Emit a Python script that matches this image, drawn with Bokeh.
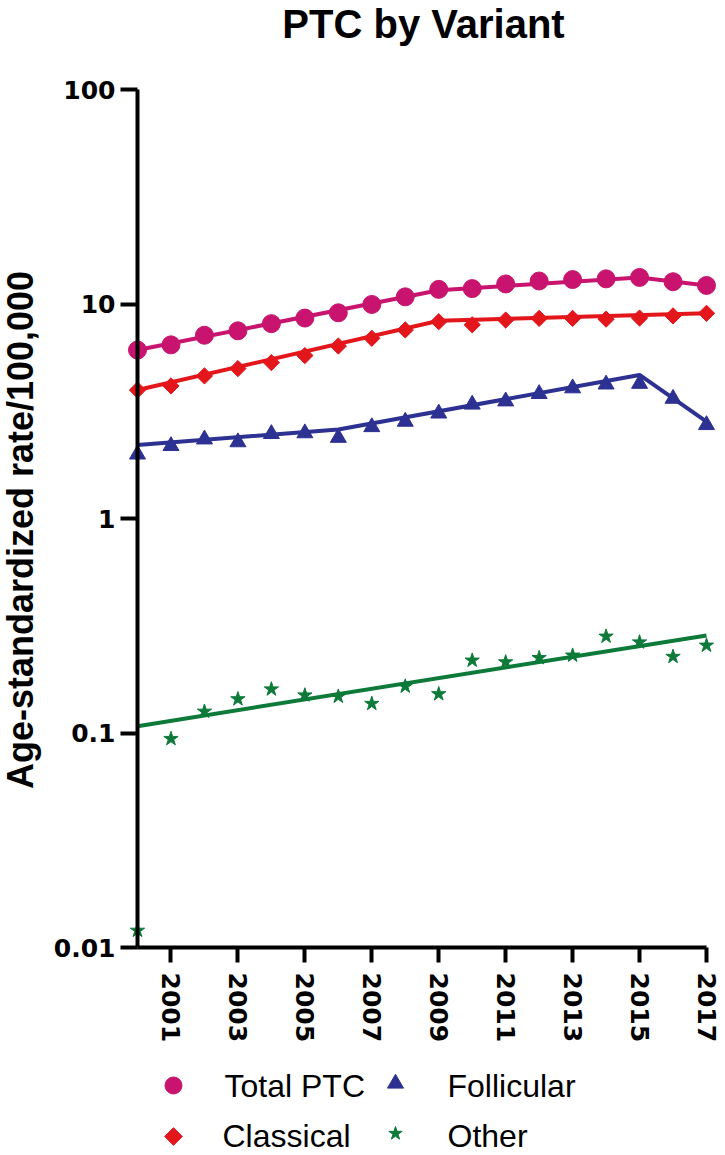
import numpy as np
from bokeh.plotting import figure
from bokeh.models import Range1d, FixedTicker, Label
from bokeh.embed import file_html
from bokeh.resources import INLINE
from bokeh.core.properties import value

# ---------------- data ----------------
years = list(range(2000, 2018))
total_ptc = [6.1, 6.45, 7.15, 7.5, 8.1, 8.6, 9.1, 9.95, 10.8, 11.7, 11.8, 12.4, 12.8, 13.0, 13.1, 13.3, 12.7, 12.2]
classical = [3.97, 4.15, 4.62, 5.0, 5.33, 5.75, 6.37, 6.92, 7.57, 8.27, 8.0, 8.42, 8.57, 8.57, 8.5, 8.6, 8.8, 9.05]
follicular = [1.99, 2.18, 2.34, 2.27, 2.48, 2.5, 2.38, 2.67, 2.83, 3.09, 3.4, 3.52, 3.81, 4.05, 4.22, 4.25, 3.62, 2.73]
other = [0.012, 0.094, 0.126, 0.144, 0.16, 0.15, 0.148, 0.137, 0.165, 0.152, 0.218, 0.214, 0.224, 0.23, 0.282, 0.265, 0.227, 0.256]

# joinpoint model fits (vertices)
total_fit_years = [2000, 2009, 2015, 2017]
total_fit = [6.1, 11.6, 13.3, 12.2]
classical_fit_years = [2000, 2009, 2017]
classical_fit = [3.97, 8.35, 9.05]
follicular_fit_years = [2000, 2006, 2015, 2017]
follicular_fit = [2.2, 2.6, 4.67, 2.83]
other_fit_years = [2000, 2017]
other_fit = [0.1076, 0.285]

series_names = ["Total PTC", "Classical", "Follicular", "Other"]
x_ticks = [2001, 2003, 2005, 2007, 2009, 2011, 2013, 2015, 2017]
y_ticks = [0.01, 0.1, 1, 10, 100]
y_tick_labels = ["0.01", "0.1", "1", "10", "100"]
title_text = "PTC by Variant"
y_label_text = "Age-standardized rate/100,000"

X_MIN, X_MAX = 2000, 2017
Y_MIN, Y_MAX = 0.01, 100

# ---------------- styles / layout ----------------
C_TOTAL = "#C8146E"
C_CLASS = "#E3161B"
C_FOLL = "#2D3192"
C_OTHER = "#0D7A3A"

W, H = 725, 1155
AX_X0, AX_X1 = 137, 706      # pixel columns of x = 2000 and x = 2017
AX_Y_TOP = 89                # pixel row of y = 100
DEC = 214.5                  # pixels per decade
ppy = (AX_X1 - AX_X0) / (X_MAX - X_MIN)


def px2x(px):
    return X_MIN + (px - AX_X0) / ppy


def px2y(py):
    return Y_MAX * 10 ** (-(py - AX_Y_TOP) / DEC)


p = figure(width=W, height=H, output_backend="svg", toolbar_location=None, title=None,
           x_range=Range1d(px2x(0), px2x(W)), y_range=Range1d(px2y(H), px2y(0)),
           y_axis_type="log", min_border=0)
p.outline_line_color = None
p.grid.visible = False
p.background_fill_color = "white"
p.border_fill_color = "white"

for ax in (p.xaxis[0], p.yaxis[0]):
    ax.axis_line_width = 4
    ax.axis_line_color = "black"
    ax.major_tick_line_width = 4
    ax.major_tick_line_color = "black"
    ax.major_tick_in = 0
    ax.minor_tick_in = 0
    ax.minor_tick_out = 0
    ax.major_label_text_font = "DejaVu Sans"
    ax.major_label_text_font_style = "bold"
    ax.major_label_text_font_size = "25px"
    ax.major_label_text_color = "black"

p.xaxis.fixed_location = Y_MIN
p.yaxis.fixed_location = X_MIN
p.xaxis.bounds = (X_MIN, X_MAX)
p.yaxis.bounds = (Y_MIN, Y_MAX)
p.xaxis.ticker = FixedTicker(ticks=x_ticks)
p.xaxis.major_label_orientation = "vertical"
p.xaxis.major_tick_out = 15
p.xaxis.major_label_standoff = 10
p.yaxis.ticker = FixedTicker(ticks=y_ticks)
p.yaxis.major_label_overrides = {t: l for t, l in zip(y_ticks, y_tick_labels)}
p.yaxis.major_tick_out = 17
p.yaxis.major_label_standoff = 5

LW = 4
p.line(total_fit_years, total_fit, line_width=LW, color=C_TOTAL)
p.line(classical_fit_years, classical_fit, line_width=LW, color=C_CLASS)
p.line(follicular_fit_years, follicular_fit, line_width=LW, color=C_FOLL)
p.line(other_fit_years, other_fit, line_width=LW, color=C_OTHER)

p.scatter(years, total_ptc, marker="circle", size=18, color=C_TOTAL)
p.scatter(years, classical, marker="square", size=11.5, angle=np.pi / 4, color=C_CLASS)
p.scatter(years, follicular, marker="triangle", size=16, color=C_FOLL)
p.scatter(years, other, marker="star", size=15, color=C_OTHER)

# title and y-axis label (anchored at the centre of the capitals)
p.add_layout(Label(x=px2x(423), y=px2y(23), text=title_text,
                   text_font="Liberation Sans", text_font_style="bold",
                   text_font_size="40px", text_align="center", text_baseline="middle",
                   text_color="black"))
p.add_layout(Label(x=px2x(19.5), y=px2y(529.5), text=y_label_text, angle=np.pi / 2,
                   text_font="Liberation Sans", text_font_style="bold",
                   text_font_size="36px", text_align="center",
                   text_baseline="middle", text_color="black"))

# legend (two columns, two rows)
leg_marker_px = [(173, 1085), (173, 1136), (395, 1083), (395, 1133)]
leg_text_px = [(224, 1085), (222, 1135.5), (447, 1085), (447, 1135.5)]
leg_styles = [dict(marker="circle", size=17, color=C_TOTAL),
              dict(marker="square", size=12.5, angle=np.pi / 4, color=C_CLASS),
              dict(marker="triangle", size=16, color=C_FOLL),
              dict(marker="star", size=14, color=C_OTHER)]
for (mx, my), st in zip(leg_marker_px, leg_styles):
    p.scatter([px2x(mx)], [px2y(my)], **st)
p.text(x=[px2x(tx) for tx, _ in leg_text_px], y=[px2y(ty) for _, ty in leg_text_px],
       text=series_names, text_font=value("Liberation Sans"),
       text_font_size=value("32px"), text_baseline="middle", text_align="left",
       text_color="black")

open("out.html", "w").write(file_html(p, INLINE))
